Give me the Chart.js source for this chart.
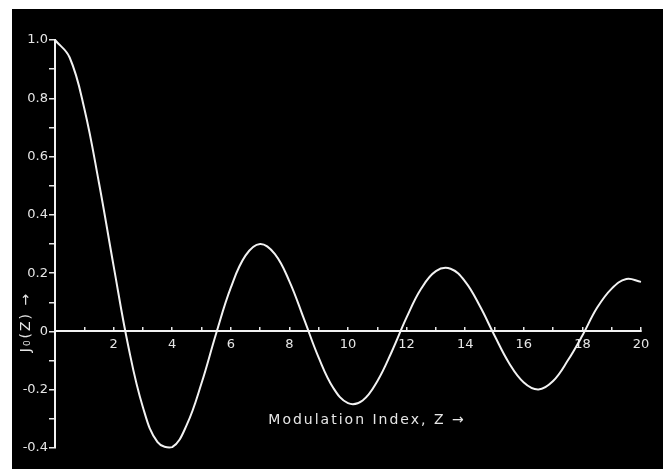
<!DOCTYPE html>
<html>
<head>
<meta charset="utf-8">
<script src="https://cdn.jsdelivr.net/npm/chart.js@4"></script>
<style>
  html, body { margin: 0; padding: 0; background: #fff; }
  #wrap { position: absolute; left: 12px; top: 9px; width: 651px; height: 460px; background: #000; }
</style>
</head>
<body>
<div id="wrap"><canvas id="besselChart"></canvas></div>
<script>
// Modulation index Z and J0(Z) read at half-unit steps
const zValues = [0, 0.5, 1, 1.5, 2, 2.5, 3, 3.5, 4, 4.5, 5, 5.5, 6, 6.5, 7, 7.5, 8, 8.5, 9, 9.5,
                 10, 10.5, 11, 11.5, 12, 12.5, 13, 13.5, 14, 14.5, 15, 15.5, 16, 16.5, 17, 17.5, 18, 18.5, 19, 19.5, 20];
const j0Values = [1.0, 0.94, 0.765, 0.51, 0.225, -0.05, -0.26, -0.38, -0.397, -0.32, -0.178, -0.007, 0.15, 0.26, 0.30, 0.266,
                  0.172, 0.042, -0.09, -0.194, -0.246, -0.237, -0.171, -0.068, 0.048, 0.147, 0.207, 0.215, 0.171, 0.087,
                  -0.014, -0.109, -0.175, -0.199, -0.17, -0.1, -0.014, 0.081, 0.147, 0.18, 0.17];

const xLabels = [2, 4, 6, 8, 10, 12, 14, 16, 18, 20];
const yLabels = [1.0, 0.8, 0.6, 0.4, 0.2, 0, -0.2, -0.4];

const labelFont = { family: 'DejaVu Sans', size: 13 };
const inkColor = '#e6e6e6';

// Axis titles drawn straight onto the canvas
const axisTitles = {
    id: 'axisTitles',
    afterDraw(chart) {
        const ctx = chart.ctx;
        ctx.save();
        ctx.fillStyle = inkColor;
        ctx.font = '14px "DejaVu Sans"';
        ctx.letterSpacing = '2px';
        ctx.textAlign = 'center';
        ctx.textBaseline = 'middle';
        ctx.fillText('Modulation Index, Z \u2192', 355, 411);
        ctx.translate(14, 313);
        ctx.rotate(-Math.PI / 2);
        ctx.fillText('J\u2080(Z) \u2192', 0, 0);
        ctx.restore();
    }
};

const ctx = document.getElementById('besselChart').getContext('2d');
new Chart(ctx, {
    type: 'line',
    data: {
        datasets: [{
            data: zValues.map((z, i) => ({ x: z, y: j0Values[i] })),
            borderColor: '#f2f2f2',
            borderWidth: 2,
            pointRadius: 0,
            tension: 0.4,
            fill: false,
            clip: false
        }]
    },
    options: {
        responsive: true,
        maintainAspectRatio: false,
        animation: false,
        layout: { padding: { left: 0, top: 31, right: 22, bottom: 21 } },
        plugins: { legend: { display: false }, tooltip: { enabled: false } },
        scales: {
            x: {
                type: 'linear',
                position: { y: 0 },
                min: 0,
                max: 20,
                grid: { drawOnChartArea: false, drawTicks: true, tickLength: -5, color: inkColor, lineWidth: 1.5 },
                border: { color: '#f2f2f2', width: 2 },
                ticks: {
                    stepSize: 1,
                    autoSkip: false,
                    maxRotation: 0,
                    padding: 10,
                    color: inkColor,
                    font: labelFont,
                    callback: v => xLabels.includes(v) ? String(v) : ''
                }
            },
            y: {
                type: 'linear',
                position: 'left',
                min: -0.4,
                max: 1.0,
                afterFit: scale => { scale.width = 43; },
                grid: { drawOnChartArea: false, drawTicks: true, tickLength: 6, color: inkColor, lineWidth: 1.5 },
                border: { color: '#f2f2f2', width: 2 },
                ticks: {
                    stepSize: 0.1,
                    autoSkip: false,
                    padding: 1,
                    color: inkColor,
                    font: labelFont,
                    callback: v => {
                        const r = Math.round(v * 10) / 10;
                        if (!yLabels.some(l => Math.abs(l - r) < 1e-6)) return '';
                        return r === 0 ? '0' : r.toFixed(1);
                    }
                }
            }
        }
    },
    plugins: [axisTitles]
});
</script>
</body>
</html>
